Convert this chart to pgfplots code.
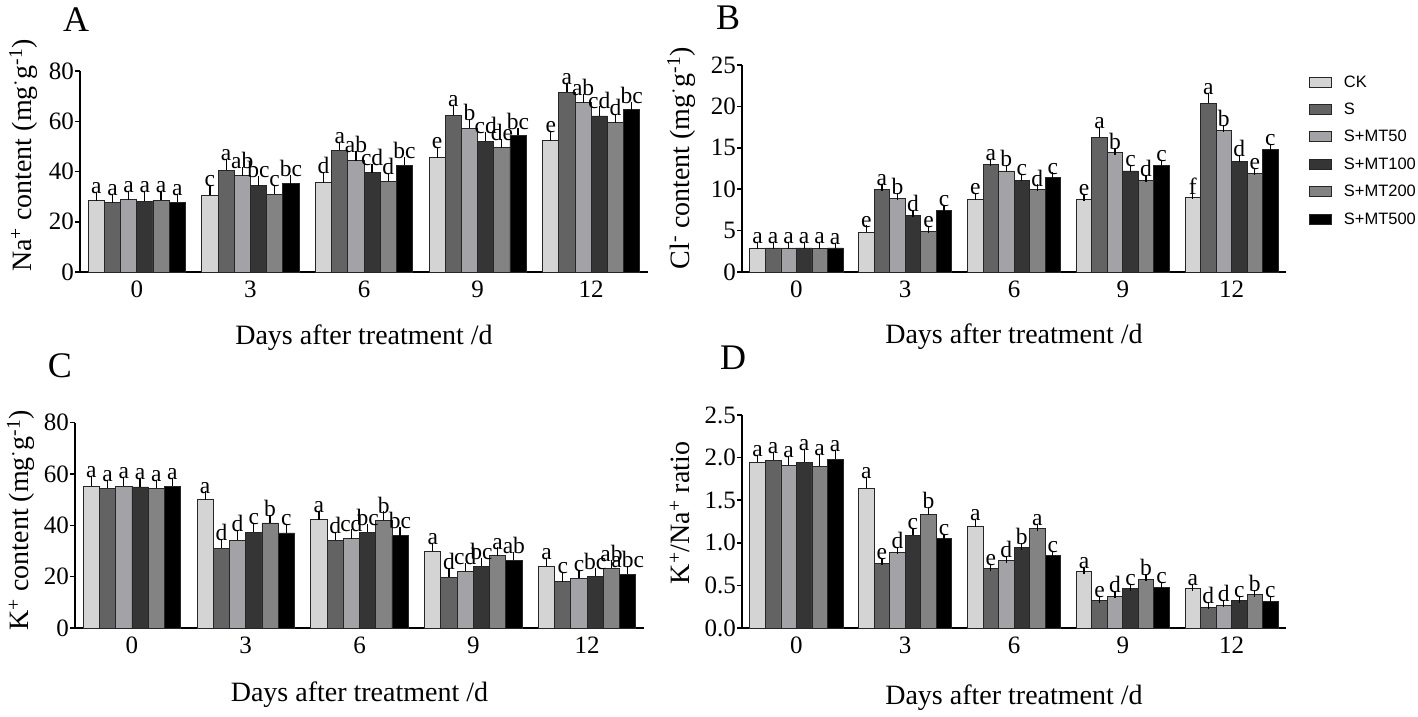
\documentclass[border=0pt]{standalone}
\usepackage{fontspec}
\setmainfont{Liberation Serif}
\newfontfamily\legfont{Liberation Sans}
\usepackage{pgfplots}
\usepackage{pgfplotstable}
\pgfplotsset{compat=1.18}

\definecolor{cCK}{HTML}{D4D4D4}
\definecolor{cS}{HTML}{636363}
\definecolor{cM50}{HTML}{A3A3A7}
\definecolor{cM100}{HTML}{353535}
\definecolor{cM200}{HTML}{838383}
\definecolor{cM500}{HTML}{000000}

% Na+ content
\pgfplotstableread{
g CK CKe CKl S Se Sl M50 M50e M50l M100 M100e M100l M200 M200e M200l M500 M500e M500l
0 28.3 2.0 a 27.6 1.9 a  28.7 2.3 a  28.2 2.5 a  28.6 2.4 a  27.8 2.0 a
1 30.6 2.6 c 40.5 3.0 a  38.4 2.0 ab 34.3 2.6 bc 31.0 2.2 c  35.2 2.0 bc
2 35.5 2.8 d 48.5 2.0 a  44.3 2.3 ab 39.6 2.0 cd 36.1 1.8 d  42.5 1.8 bc
3 45.5 2.9 e 62.4 2.6 a  57.3 2.1 b  52.1 2.4 cd 49.4 2.0 de 54.4 1.6 bc
4 52.3 2.5 e 71.6 2.3 a  67.4 2.1 ab 62.1 2.4 cd 59.4 2.2 d  64.6 1.6 bc
}\tabA

% Cl- content
\pgfplotstableread{
g CK CKe CKl S Se Sl M50 M50e M50l M100 M100e M100l M200 M200e M200l M500 M500e M500l
0 2.90 0.25 a 2.90 0.30 a 2.90 0.30 a 2.90 0.25 a 2.85 0.30 a 2.90 0.20 a
1 4.80 0.40 e 9.95 0.25 a 8.85 0.25 b 6.85 0.20 d 4.90 0.20 e 7.45 0.25 c
2 8.80 0.27 e 13.0 0.20 a 12.2 0.30 b 11.1 0.30 c 9.95 0.20 d 11.4 0.20 c
3 8.80 0.25 e 16.25 0.80 a 14.4 0.20 b 12.2 0.30 c 11.05 0.20 d 12.9 0.25 c
4 8.95 0.25 f 20.4 0.75 a 17.05 0.25 b 13.4 0.30 d 11.85 0.25 e 14.8 0.20 c
}\tabB

% K+ content
\pgfplotstableread{
g CK CKe CKl S Se Sl M50 M50e M50l M100 M100e M100l M200 M200e M200l M500 M500e M500l
0 55.1 2.9 a 54.5 1.9 a 55.1 2.3 a  54.9 2.0 a  54.5 1.9 a  55.1 2.0 a
1 49.9 1.9 a 31.0 2.3 d 34.1 2.6 d  37.2 2.4 c  40.9 1.8 b  37.0 2.2 c
2 42.2 2.1 a 34.1 2.1 d 34.8 2.2 cd 37.2 2.0 bc 41.9 2.1 b  35.9 1.9 bc
3 29.8 1.9 a 19.8 2.2 d 22.0 1.9 cd 24.0 1.9 bc 28.2 1.8 a  26.3 2.0 ab
4 24.1 1.9 a 18.1 2.3 c 19.4 2.0 c  20.1 1.9 bc 23.3 2.0 ab 21.0 1.7 abc
}\tabC

% K+/Na+ ratio
\pgfplotstableread{
g CK CKe CKl S Se Sl M50 M50e M50l M100 M100e M100l M200 M200e M200l M500 M500e M500l
0 1.945 0.05 a 1.97 0.06 a 1.91 0.07 a 1.945 0.11 a 1.90 0.10 a 1.98 0.07 a
1 1.64 0.09 a 0.76 0.02 e 0.89 0.015 d 1.09 0.04 c 1.33 0.05 b 1.05 0.015 c
2 1.19 0.05 a 0.70 0.015 e 0.79 0.01 d 0.945 0.01 b 1.17 0.015 a 0.85 0.015 c
3 0.66 0.01 a 0.32 0.02 e 0.37 0.02 d 0.46 0.02 c 0.575 0.02 b 0.475 0.025 c
4 0.46 0.015 a 0.24 0.025 d 0.27 0.02 d 0.32 0.02 c 0.39 0.02 b 0.31 0.02 c
}\tabD

\pgfplotsset{mylegimg/.style={legend image code/.code={\draw[#1] (0pt,-5pt) rectangle (22pt,5pt);}}}

\newcommand{\series}[4]{%
 \addplot[ybar, bar width=0.1425, bar shift=0pt, fill=#4, draw=black!85, line width=0.8pt,
   mylegimg,
   error bars/.cd, y dir=plus, y explicit,
   error bar style={line width=1.2pt, black},
   error mark options={mark size=3.5pt, line width=1.2pt, black}]
   table[x expr=\thisrow{g}+#3, y=#2, y error=#2e]{#1};
 \addplot[forget plot, draw=none, mark=none, nodes near coords, point meta=explicit symbolic,
   nodes near coords style={font=\fontsize{23.5}{26}\selectfont, anchor=south, inner sep=1.5pt, text=black}]
   table[x expr=\thisrow{g}+#3, y expr=\thisrow{#2}+\thisrow{#2e}, meta=#2l]{#1};
}
\newcommand{\allseries}[1]{%
 \series{#1}{CK}{-0.35625}{cCK}
 \series{#1}{S}{-0.21375}{cS}
 \series{#1}{M50}{-0.07125}{cM50}
 \series{#1}{M100}{0.07125}{cM100}
 \series{#1}{M200}{0.21375}{cM200}
 \series{#1}{M500}{0.35625}{cM500}
}

\pgfplotsset{panel/.style={
  scale only axis, anchor=south west,
  axis x line*=bottom, axis y line*=left,
  axis line style={line width=2.8pt, -},
  xmin=-0.5, xmax=4.5, xtick={0,1,2,3,4}, xticklabels={0,3,6,9,12},
  xtick style={draw=none}, ytick style={line width=1.5pt, black},
  tick align=outside, major tick length=5pt,
  ymin=0, clip=false,
  tick label style={font=\fontsize{25}{28}\selectfont},
  yticklabel style={inner sep=1pt},
  /pgf/number format/assume math mode=true,
  xlabel={Days after treatment /d},
  every axis x label/.style={at={(axis description cs:0.5,0)}, anchor=center, font=\fontsize{28}{32}\selectfont},
  every axis y label/.style={rotate=90, anchor=center, font=\fontsize{28}{32}\selectfont},
}}

\begin{document}
\begin{tikzpicture}[x=1pt,y=1pt]
% A
\begin{axis}[panel, at={(80pt,444pt)}, width=568pt, height=201pt,
  ymax=80, ytick={0,20,40,60,80},
  ylabel={Na\textsuperscript{+} content (mg\textsuperscript{·}g\textsuperscript{-1})},
  xlabel style={yshift=-66pt},
  ylabel style={at={(axis description cs:-0.1,0.58)}}]
\allseries{\tabA}
\end{axis}
% B
\begin{axis}[panel, at={(742pt,444pt)}, width=544pt, height=207pt,
  ymax=25, ytick={0,5,10,15,20,25},
  ylabel={Cl\textsuperscript{-} content (mg\textsuperscript{·}g\textsuperscript{-1})},
  xlabel style={yshift=-65pt},
  ylabel style={at={(axis description cs:-0.112,0.55)}},
  legend entries={CK,S,S+MT50,S+MT100,S+MT200,S+MT500},
  legend style={at={(axis description cs:1.042,0.96)}, anchor=north west, draw=none, fill=none,
    inner sep=0pt, font=\legfont\fontsize{16.5}{18}\selectfont, row sep=10.4pt, column sep=10pt,
    cells={anchor=west}}]
\allseries{\tabB}
\end{axis}
% C
\begin{axis}[panel, at={(75pt,88pt)}, width=569pt, height=205.5pt,
  ymax=80, ytick={0,20,40,60,80},
  ylabel={K\textsuperscript{+} content (mg\textsuperscript{·}g\textsuperscript{-1})},
  xlabel style={yshift=-67pt},
  ylabel style={at={(axis description cs:-0.095,0.525)}}]
\allseries{\tabC}
\end{axis}
% D
\begin{axis}[panel, at={(742pt,88pt)}, width=544pt, height=213pt,
  ymax=2.5, ytick={0,0.5,1,1.5,2,2.5},
  yticklabel style={/pgf/number format/.cd, fixed, fixed zerofill, precision=1},
  ylabel={K\textsuperscript{+}/Na\textsuperscript{+} ratio},
  xlabel style={yshift=-70pt},
  ylabel style={at={(axis description cs:-0.114,0.54)}}]
\allseries{\tabD}
\end{axis}
\node[font=\fontsize{36}{40}\selectfont] at (76pt,696pt) {A};
\node[font=\fontsize{36}{40}\selectfont] at (728pt,698pt) {B};
\node[font=\fontsize{36}{40}\selectfont] at (60pt,350pt) {C};
\node[font=\fontsize{36}{40}\selectfont] at (733pt,358pt) {D};
\pgfresetboundingbox
\path[use as bounding box] (0pt,0pt) rectangle (1418pt,716pt);
\end{tikzpicture}
\end{document}
